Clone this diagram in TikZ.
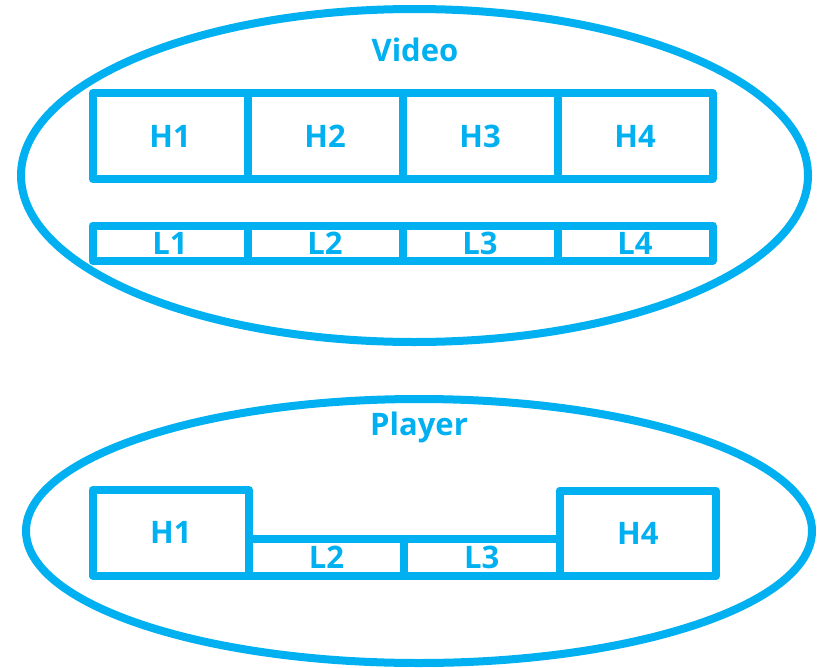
\documentclass[tikz,border=0pt]{standalone}
\usepackage{fontspec}
\setmainfont{Open Sans}
\usetikzlibrary{shapes.geometric}
\definecolor{cy}{HTML}{00B0F0}
\tikzset{
  blob/.style={ellipse, draw=cy, line width=8pt, inner sep=0pt},
  cell/.style={rectangle, draw=cy, line width=8pt, line join=round, inner sep=0pt, text=cy,
    font=\fontsize{31}{31}\selectfont\bfseries},
  ttl/.style={text=cy, inner sep=0pt, anchor=base, font=\fontsize{31}{31}\selectfont\bfseries}
}
\begin{document}
\begin{tikzpicture}[x=1pt,y=-1pt]
\useasboundingbox (0,0) rectangle (825,667);
% Video
\node[blob, minimum width=787pt, minimum height=333pt] (video) at (414.5,175.5) {};
\node[ttl] (vt) at (415,61) {Video};
\node[cell, minimum width=155pt, minimum height=86pt] (vh1) at (170,136) {H1};
\node[cell, minimum width=155pt, minimum height=86pt] (vh2) at (325,136) {H2};
\node[cell, minimum width=155pt, minimum height=86pt] (vh3) at (480,136) {H3};
\node[cell, minimum width=155pt, minimum height=86pt] (vh4) at (635,136) {H4};
\node[cell, minimum width=155pt, minimum height=35.5pt] (vl1) at (170,243.25) {L1};
\node[cell, minimum width=155pt, minimum height=35.5pt] (vl2) at (325,243.25) {L2};
\node[cell, minimum width=155pt, minimum height=35.5pt] (vl3) at (480,243.25) {L3};
\node[cell, minimum width=155pt, minimum height=35.5pt] (vl4) at (635,243.25) {L4};
% Player
\node[blob, minimum width=786pt, minimum height=264pt] (player) at (419,531) {};
\node[ttl] (pt) at (419,435) {Player};
\node[cell, minimum width=156.5pt, minimum height=85.5pt] (ph1) at (170.75,532.75) {H1};
\node[cell, minimum width=155pt, minimum height=36.5pt] (pl2) at (326.5,557.25) {L2};
\node[cell, minimum width=155.5pt, minimum height=36.5pt] (pl3) at (481.75,557.25) {L3};
\node[cell, minimum width=156.5pt, minimum height=85.5pt] (ph4) at (637.75,533.25) {H4};
\end{tikzpicture}
\end{document}
